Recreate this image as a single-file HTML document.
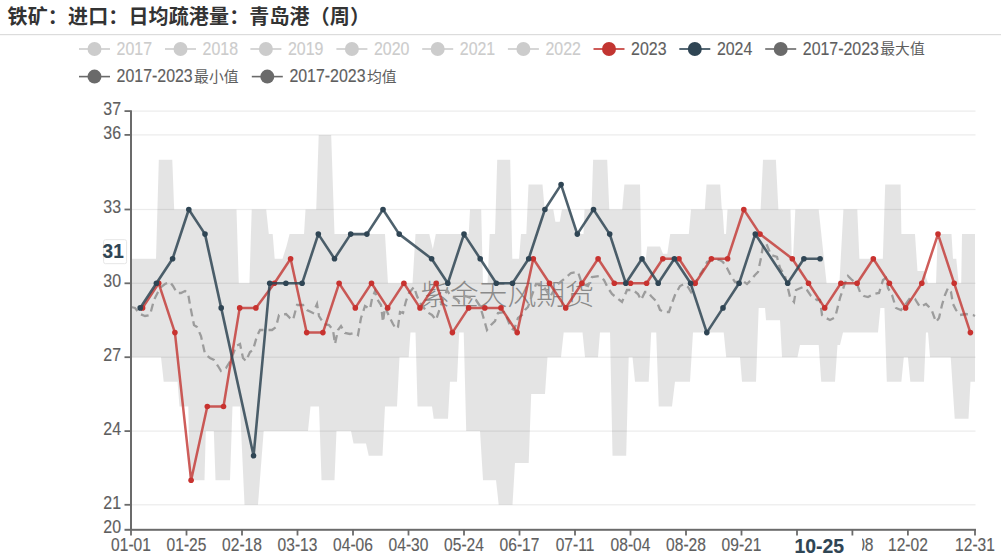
<!DOCTYPE html>
<html><head><meta charset="utf-8"><title>铁矿：进口：日均疏港量：青岛港（周）</title>
<style>html,body{margin:0;padding:0;background:#fff;}body{width:1001px;height:557px;overflow:hidden;position:relative;font-family:"Liberation Sans", "Noto Sans CJK SC", sans-serif;}.t{position:absolute;left:7.6px;top:1px;font-size:20px;font-weight:bold;color:#333;white-space:nowrap;letter-spacing:0.14px;}svg{position:absolute;left:0;top:0;}svg text{font-family:"Liberation Sans", "Noto Sans CJK SC", sans-serif;}</style></head><body>
<div class="t">铁矿：进口：日均疏港量：青岛港（周）</div>
<svg width="1001" height="557" viewBox="0 0 1001 557">
<rect x="0" y="34" width="1001" height="1.2" fill="#dcdcdc"/>
<rect x="79" y="48.2" width="31" height="1.6" fill="#ccc"/><circle cx="94.5" cy="49" r="7" fill="#ccc"/><text transform="translate(116.6 54.6) scale(0.91 1)" font-size="17.5" fill="#ccc" stroke="#ccc" stroke-width="0.15" text-anchor="start">2017</text>
<rect x="165" y="48.2" width="31" height="1.6" fill="#ccc"/><circle cx="180.5" cy="49" r="7" fill="#ccc"/><text transform="translate(202.6 54.6) scale(0.91 1)" font-size="17.5" fill="#ccc" stroke="#ccc" stroke-width="0.15" text-anchor="start">2018</text>
<rect x="250.4" y="48.2" width="31" height="1.6" fill="#ccc"/><circle cx="265.9" cy="49" r="7" fill="#ccc"/><text transform="translate(288 54.6) scale(0.91 1)" font-size="17.5" fill="#ccc" stroke="#ccc" stroke-width="0.15" text-anchor="start">2019</text>
<rect x="336.4" y="48.2" width="31" height="1.6" fill="#ccc"/><circle cx="351.9" cy="49" r="7" fill="#ccc"/><text transform="translate(374 54.6) scale(0.91 1)" font-size="17.5" fill="#ccc" stroke="#ccc" stroke-width="0.15" text-anchor="start">2020</text>
<rect x="422.2" y="48.2" width="31" height="1.6" fill="#ccc"/><circle cx="437.7" cy="49" r="7" fill="#ccc"/><text transform="translate(459.8 54.6) scale(0.91 1)" font-size="17.5" fill="#ccc" stroke="#ccc" stroke-width="0.15" text-anchor="start">2021</text>
<rect x="507.9" y="48.2" width="31" height="1.6" fill="#ccc"/><circle cx="523.4" cy="49" r="7" fill="#ccc"/><text transform="translate(545.5 54.6) scale(0.91 1)" font-size="17.5" fill="#ccc" stroke="#ccc" stroke-width="0.15" text-anchor="start">2022</text>
<rect x="593.5" y="48.2" width="31" height="1.6" fill="#c23531"/><circle cx="609" cy="49" r="7" fill="#c23531"/><text transform="translate(631.1 54.6) scale(0.91 1)" font-size="17.5" fill="#5e5e5e" stroke="#5e5e5e" stroke-width="0.15" text-anchor="start">2023</text>
<rect x="679.3" y="48.2" width="31" height="1.6" fill="#2f4554"/><circle cx="694.8" cy="49" r="7" fill="#2f4554"/><text transform="translate(716.9 54.6) scale(0.91 1)" font-size="17.5" fill="#5e5e5e" stroke="#5e5e5e" stroke-width="0.15" text-anchor="start">2024</text>
<rect x="765.2" y="48.2" width="31" height="1.6" fill="#6a6a6a"/><circle cx="780.7" cy="49" r="7" fill="#6a6a6a"/><text transform="translate(802.8 54.6) scale(0.91 1)" font-size="17.5" fill="#5e5e5e" stroke="#5e5e5e" stroke-width="0.15" text-anchor="start">2017-2023</text><text x="880.3" y="53.9" font-size="14.8" fill="#5e5e5e">最大值</text>
<rect x="79" y="75.8" width="31" height="1.6" fill="#6a6a6a"/><circle cx="94.5" cy="76.6" r="7" fill="#6a6a6a"/><text transform="translate(116.6 82.2) scale(0.91 1)" font-size="17.5" fill="#5e5e5e" stroke="#5e5e5e" stroke-width="0.15" text-anchor="start">2017-2023</text><text x="194.1" y="81.5" font-size="14.8" fill="#5e5e5e">最小值</text>
<rect x="251.8" y="75.8" width="31" height="1.6" fill="#6a6a6a"/><circle cx="267.3" cy="76.6" r="7" fill="#6a6a6a"/><text transform="translate(289.4 82.2) scale(0.91 1)" font-size="17.5" fill="#5e5e5e" stroke="#5e5e5e" stroke-width="0.15" text-anchor="start">2017-2023</text><text x="366.9" y="81.5" font-size="14.8" fill="#5e5e5e">均值</text>
<g fill="#ececec">
<rect x="132" y="110.5" width="843.5" height="1.2"/>
<rect x="132" y="134.3" width="843.5" height="1.2"/>
<rect x="132" y="208.9" width="843.5" height="1.2"/>
<rect x="132" y="282.7" width="843.5" height="1.2"/>
<rect x="132" y="356.6" width="843.5" height="1.2"/>
<rect x="132" y="430.5" width="843.5" height="1.2"/>
<rect x="132" y="504.2" width="843.5" height="1.2"/>
</g>
<path d="M131 258.7 L156 258.7 L158.8 159.8 L172.3 159.8 L174.2 209.5 L236.5 209.5 L238.8 283.3 L249.4 283.3 L251.7 209.5 L266.2 209.5 L268.8 234.1 L272.7 234.1 L274.7 258.7 L282.5 258.7 L286.4 246.4 L289.6 234.1 L304 234.1 L305.5 209.5 L316.2 209.5 L318.7 134.9 L331.2 134.9 L334.5 234.1 L385 234.1 L388 283.3 L412.5 283.3 L415.5 234.1 L429.3 234.1 L432.8 248.9 L435.8 234.1 L468.7 234.1 L470 209.5 L481.2 209.5 L483 283.3 L487.5 283.3 L489.7 234.1 L495 234.1 L497.2 159.8 L510.2 159.8 L512.3 258.7 L519 258.7 L521 234.1 L526.3 234.1 L528.5 184.6 L542.5 184.6 L544.7 209.5 L553.3 209.5 L555.4 221.8 L559.7 221.8 L561.9 209.5 L570.5 209.5 L576 234.1 L583.5 234.1 L584.5 209.5 L591.5 209.5 L593.1 159.8 L607.2 159.8 L609.3 209.5 L622.2 209.5 L624.4 184.6 L640 184.6 L641.5 258.7 L645.8 258.7 L647.2 246.4 L660.1 246.4 L663 253.8 L667.3 253.8 L670.2 234.1 L688.8 234.1 L691 209.5 L704.8 209.5 L706.5 184.6 L720.2 184.6 L721.8 209.5 L722.6 209.5 L724.2 234.1 L726 234.1 L727.5 209.5 L760.6 209.5 L763 159.8 L775.9 159.8 L778.4 209.5 L790.5 209.5 L791.8 258.7 L793 258.7 L795.3 209.5 L818.7 209.5 L826.6 283.3 L839.4 283.3 L843.4 209.5 L857.3 209.5 L859.4 258.7 L882.8 258.7 L885.2 184.6 L900.6 184.6 L901.4 234.1 L915 234.1 L917.5 271 L924 271 L928 283.3 L936 283.3 L937.7 234.1 L951.5 234.1 L953 258.7 L956.3 258.7 L958.7 283.3 L961.2 283.3 L962 234.1 L975 234.1 L975 381.8 L970.5 381.8 L968.5 418.8 L954.7 418.8 L950.7 357.2 L930 357.2 L928 332.6 L926 332.6 L924 381.8 L910.3 381.8 L907.9 357.2 L903.8 357.2 L901.4 381.8 L886.8 381.8 L884.4 307.9 L880.4 307.9 L878 332.6 L843 332.6 L840 344.9 L837.5 344.9 L835 381.8 L821.2 381.8 L818.7 344.9 L800 344.9 L797.5 357.2 L782 357.2 L780 320.2 L766 320.2 L765 307.9 L758.7 307.9 L756 381.8 L742 381.8 L740 357.2 L726.2 357.2 L723.7 332.6 L693 332.6 L690 381.8 L675 381.8 L672 406.5 L658.7 406.5 L656.2 332.6 L651.2 332.6 L648.7 381.8 L635 381.8 L632.5 357.2 L628.7 357.2 L626.2 455.7 L612.5 455.7 L610 332.6 L600 332.6 L598 357.2 L585 357.2 L582.5 332.6 L563.7 332.6 L561 357.2 L547.5 357.2 L545 394.1 L531.2 394.1 L528.7 463 L515 463 L512.5 504.8 L498.7 504.8 L496 480.2 L483 480.2 L480 431.1 L466.2 431.1 L463.7 332.6 L459.2 332.6 L457 381.8 L450 381.8 L448 418.8 L433.7 418.8 L432 406.5 L417.5 406.5 L415.5 332.6 L410.5 332.6 L408.7 357.2 L399.5 357.2 L397 406.5 L385 406.5 L382.5 455.7 L368.7 455.7 L366 443.4 L353.5 443.4 L351 431.1 L336.5 431.1 L334.5 480.2 L321.5 480.2 L319 406.5 L310.5 406.5 L308 431.1 L263.7 431.1 L258 504.8 L244.5 504.8 L240 406.5 L232.5 406.5 L230 480.2 L215.5 480.2 L213.8 431.1 L205.8 431.1 L204.5 480.2 L189.6 480.2 L188.3 406.5 L179.5 406.5 L177.5 381.8 L163.7 381.8 L161 357.2 L131 357.2 Z" fill="#000" fill-opacity="0.105"/>
<text x="420.8" y="305" font-size="28.9" fill="#8a8a8a" style="font-family:'Noto Sans CJK SC',sans-serif;font-weight:300">紫金天风期货</text>
<polyline points="131,307 135,308 140,314 145,316 150,315 154,300 158,292 161,287 165,284 170,282 173,286 177,293 181,293 185,291 188,293 190,305 192,315 194,325 197,327 201,336 203,345 205,354 210,358 214,360 218,366 221,371 226,368 231,360 236,346 240,344 243,358 246,361 250,352 253,350 257,336 260,330 266,330 272,330 276,327 279,315 286,314 290,318 293,320 297,305 303,305 307,310 313,313 317,304 319,316 324,324 329,325 333,330 335,344 338,330 341,326 345,333 350,334 355,333 358,335 361,318 365,306 370,309 372,299 375,291 377,299 381,305 383,322 385,307 389,316 393,324 396,329 398,327 400,312 403,313 406,301 409,293 414,287 417,296 420,303 424,308 427,312 432,315 436,320 441,305 447,290 450,295 453,297 459,301 465,296 471,298 476,300 480,306 483,316 487,330 491,325 495,321 498,313 504,312 507,318 511,328 514,330 518,318 522,315 525,310 528,307 532,295 536,284 542,284 546,290 550,297 554,290 558,284 564,279 571,273 578,272 582,284 588,286 592,277 599,276 604,280 608,288 612,294 617,298 622,302 627,290 633,290 638,294 641,300 645,292 648,292 651,296 657,302 660,310 664,312 669,312 672,303 675,295 680,286 684,284 688,287 691,292 695,283 699,276 703,270 707,262 715,259 720,260 723,262 727,268 731,276 735,282 739,282 743,281 747,284 751,280 755,275 758,272 761,258 763,246 766,243 771,255 777,257 780,268 785,276 790,297 794,302 796,290 803,287 807,290 811,296 817,300 820,300 822,315 826,318 830,320 834,318 836,314 840,298 845,283 848,276 852,280 857,284 860,292 864,296 868,297 874,294 879,293 883,280 886,278 888,288 892,295 896,308 901,310 905,305 910,298 915,299 920,307 926,304 929,307 932,311 936,322 939,318 942,305 945,295 948,288 951,292 953,304 956,310 960,315 966,314 973,315 975,316" fill="none" stroke="#9c9c9c" stroke-width="2.3" stroke-dasharray="8 5"/>
<polyline points="142.6,307.9 158.7,283.3 174.9,332.6 191.1,480.2 207.3,406.5 223.5,406.5 239.7,307.9 255.9,307.9 274.4,283.3 290.6,258.7 306.7,332.6 322.9,332.6 339.1,283.3 355.3,307.9 371.5,283.3 387.7,307.9 403.9,283.3 420,307.9 436.2,283.3 452.4,332.6 468.6,307.9 484.8,307.9 501,307.9 517.2,332.6 533.3,258.7 549.5,283.3 565.7,307.9 581.9,283.3 598.1,258.7 614.3,283.3 630.5,283.3 646.6,283.3 662.8,258.7 679,258.7 695.2,283.3 711.4,258.7 727.6,258.7 743.8,209.5 760,234.1 792.3,258.7 808.5,283.3 824.7,307.9 840.9,283.3 857.1,283.3 873.3,258.7 889.4,283.3 905.6,307.9 921.8,283.3 938,234.1 954.2,283.3 970.4,332.6" fill="none" stroke="#c23531" stroke-opacity="0.8" stroke-width="2.5" stroke-linejoin="round"/>
<g fill="#c8322f"><circle cx="142.6" cy="307.9" r="2.8"/><circle cx="158.7" cy="283.3" r="2.8"/><circle cx="174.9" cy="332.6" r="2.8"/><circle cx="191.1" cy="480.2" r="2.8"/><circle cx="207.3" cy="406.5" r="2.8"/><circle cx="223.5" cy="406.5" r="2.8"/><circle cx="239.7" cy="307.9" r="2.8"/><circle cx="255.9" cy="307.9" r="2.8"/><circle cx="274.4" cy="283.3" r="2.8"/><circle cx="290.6" cy="258.7" r="2.8"/><circle cx="306.7" cy="332.6" r="2.8"/><circle cx="322.9" cy="332.6" r="2.8"/><circle cx="339.1" cy="283.3" r="2.8"/><circle cx="355.3" cy="307.9" r="2.8"/><circle cx="371.5" cy="283.3" r="2.8"/><circle cx="387.7" cy="307.9" r="2.8"/><circle cx="403.9" cy="283.3" r="2.8"/><circle cx="420" cy="307.9" r="2.8"/><circle cx="436.2" cy="283.3" r="2.8"/><circle cx="452.4" cy="332.6" r="2.8"/><circle cx="468.6" cy="307.9" r="2.8"/><circle cx="484.8" cy="307.9" r="2.8"/><circle cx="501" cy="307.9" r="2.8"/><circle cx="517.2" cy="332.6" r="2.8"/><circle cx="533.3" cy="258.7" r="2.8"/><circle cx="549.5" cy="283.3" r="2.8"/><circle cx="565.7" cy="307.9" r="2.8"/><circle cx="581.9" cy="283.3" r="2.8"/><circle cx="598.1" cy="258.7" r="2.8"/><circle cx="614.3" cy="283.3" r="2.8"/><circle cx="630.5" cy="283.3" r="2.8"/><circle cx="646.6" cy="283.3" r="2.8"/><circle cx="662.8" cy="258.7" r="2.8"/><circle cx="679" cy="258.7" r="2.8"/><circle cx="695.2" cy="283.3" r="2.8"/><circle cx="711.4" cy="258.7" r="2.8"/><circle cx="727.6" cy="258.7" r="2.8"/><circle cx="743.8" cy="209.5" r="2.8"/><circle cx="760" cy="234.1" r="2.8"/><circle cx="792.3" cy="258.7" r="2.8"/><circle cx="808.5" cy="283.3" r="2.8"/><circle cx="824.7" cy="307.9" r="2.8"/><circle cx="840.9" cy="283.3" r="2.8"/><circle cx="857.1" cy="283.3" r="2.8"/><circle cx="873.3" cy="258.7" r="2.8"/><circle cx="889.4" cy="283.3" r="2.8"/><circle cx="905.6" cy="307.9" r="2.8"/><circle cx="921.8" cy="283.3" r="2.8"/><circle cx="938" cy="234.1" r="2.8"/><circle cx="954.2" cy="283.3" r="2.8"/><circle cx="970.4" cy="332.6" r="2.8"/></g>
<polyline points="140.2,307.9 156.4,283.3 172.6,258.7 188.8,209.5 205,234.1 221.2,307.9 253.6,455.7 269.7,283.3 285.9,283.3 302.1,283.3 318.3,234.1 334.5,258.7 350.7,234.1 366.9,234.1 383,209.5 399.2,234.1 431.6,258.7 447.8,283.3 464,234.1 480.2,258.7 496.3,283.3 512.5,283.3 528.7,258.7 544.9,209.5 561.1,184.6 577.3,234.1 593.5,209.5 609.7,234.1 625.8,283.3 642,258.7 658.2,283.3 674.4,258.7 690.6,283.3 706.8,332.6 723,307.9 739.1,283.3 755.3,234.1 787.7,283.3 803.9,258.7 820.1,258.7" fill="none" stroke="#2f4554" stroke-opacity="0.85" stroke-width="2.6" stroke-linejoin="round"/>
<g fill="#2f4554"><circle cx="140.2" cy="307.9" r="2.8"/><circle cx="156.4" cy="283.3" r="2.8"/><circle cx="172.6" cy="258.7" r="2.8"/><circle cx="188.8" cy="209.5" r="2.8"/><circle cx="205" cy="234.1" r="2.8"/><circle cx="221.2" cy="307.9" r="2.8"/><circle cx="253.6" cy="455.7" r="2.8"/><circle cx="269.7" cy="283.3" r="2.8"/><circle cx="285.9" cy="283.3" r="2.8"/><circle cx="302.1" cy="283.3" r="2.8"/><circle cx="318.3" cy="234.1" r="2.8"/><circle cx="334.5" cy="258.7" r="2.8"/><circle cx="350.7" cy="234.1" r="2.8"/><circle cx="366.9" cy="234.1" r="2.8"/><circle cx="383" cy="209.5" r="2.8"/><circle cx="399.2" cy="234.1" r="2.8"/><circle cx="431.6" cy="258.7" r="2.8"/><circle cx="447.8" cy="283.3" r="2.8"/><circle cx="464" cy="234.1" r="2.8"/><circle cx="480.2" cy="258.7" r="2.8"/><circle cx="496.3" cy="283.3" r="2.8"/><circle cx="512.5" cy="283.3" r="2.8"/><circle cx="528.7" cy="258.7" r="2.8"/><circle cx="544.9" cy="209.5" r="2.8"/><circle cx="561.1" cy="184.6" r="2.8"/><circle cx="577.3" cy="234.1" r="2.8"/><circle cx="593.5" cy="209.5" r="2.8"/><circle cx="609.7" cy="234.1" r="2.8"/><circle cx="625.8" cy="283.3" r="2.8"/><circle cx="642" cy="258.7" r="2.8"/><circle cx="658.2" cy="283.3" r="2.8"/><circle cx="674.4" cy="258.7" r="2.8"/><circle cx="690.6" cy="283.3" r="2.8"/><circle cx="706.8" cy="332.6" r="2.8"/><circle cx="723" cy="307.9" r="2.8"/><circle cx="739.1" cy="283.3" r="2.8"/><circle cx="755.3" cy="234.1" r="2.8"/><circle cx="787.7" cy="283.3" r="2.8"/><circle cx="803.9" cy="258.7" r="2.8"/><circle cx="820.1" cy="258.7" r="2.8"/></g>
<rect x="130" y="110.3" width="2" height="420" fill="#6b6b6b"/>
<rect x="124.5" y="528.8" width="851.5" height="2" fill="#6b6b6b"/>
<rect x="124.5" y="110.2" width="6" height="1.8" fill="#6b6b6b"/>
<rect x="124.5" y="134" width="6" height="1.8" fill="#6b6b6b"/>
<rect x="124.5" y="208.6" width="6" height="1.8" fill="#6b6b6b"/>
<rect x="124.5" y="282.4" width="6" height="1.8" fill="#6b6b6b"/>
<rect x="124.5" y="356.3" width="6" height="1.8" fill="#6b6b6b"/>
<rect x="124.5" y="430.2" width="6" height="1.8" fill="#6b6b6b"/>
<rect x="124.5" y="503.9" width="6" height="1.8" fill="#6b6b6b"/>
<text transform="translate(121 115) scale(0.91 1)" font-size="17.5" fill="#5e5e5e" stroke="#5e5e5e" stroke-width="0.15" text-anchor="end">37</text>
<text transform="translate(121 138.8) scale(0.91 1)" font-size="17.5" fill="#5e5e5e" stroke="#5e5e5e" stroke-width="0.15" text-anchor="end">36</text>
<text transform="translate(121 213.4) scale(0.91 1)" font-size="17.5" fill="#5e5e5e" stroke="#5e5e5e" stroke-width="0.15" text-anchor="end">33</text>
<text transform="translate(121 287.2) scale(0.91 1)" font-size="17.5" fill="#5e5e5e" stroke="#5e5e5e" stroke-width="0.15" text-anchor="end">30</text>
<text transform="translate(121 361.1) scale(0.91 1)" font-size="17.5" fill="#5e5e5e" stroke="#5e5e5e" stroke-width="0.15" text-anchor="end">27</text>
<text transform="translate(121 435) scale(0.91 1)" font-size="17.5" fill="#5e5e5e" stroke="#5e5e5e" stroke-width="0.15" text-anchor="end">24</text>
<text transform="translate(121 508.7) scale(0.91 1)" font-size="17.5" fill="#5e5e5e" stroke="#5e5e5e" stroke-width="0.15" text-anchor="end">21</text>
<text transform="translate(121 533.4) scale(0.91 1)" font-size="17.5" fill="#5e5e5e" stroke="#5e5e5e" stroke-width="0.15" text-anchor="end">20</text>
<rect x="130.1" y="529.5" width="1.8" height="6" fill="#6b6b6b"/>
<text transform="translate(131 551.2) scale(0.89 1)" font-size="17.5" fill="#5e5e5e" stroke="#5e5e5e" stroke-width="0.15" text-anchor="middle">01-01</text>
<rect x="185.6" y="529.5" width="1.8" height="6" fill="#6b6b6b"/>
<text transform="translate(186.5 551.2) scale(0.89 1)" font-size="17.5" fill="#5e5e5e" stroke="#5e5e5e" stroke-width="0.15" text-anchor="middle">01-25</text>
<rect x="241.1" y="529.5" width="1.8" height="6" fill="#6b6b6b"/>
<text transform="translate(242 551.2) scale(0.89 1)" font-size="17.5" fill="#5e5e5e" stroke="#5e5e5e" stroke-width="0.15" text-anchor="middle">02-18</text>
<rect x="296.6" y="529.5" width="1.8" height="6" fill="#6b6b6b"/>
<text transform="translate(297.5 551.2) scale(0.89 1)" font-size="17.5" fill="#5e5e5e" stroke="#5e5e5e" stroke-width="0.15" text-anchor="middle">03-13</text>
<rect x="352.1" y="529.5" width="1.8" height="6" fill="#6b6b6b"/>
<text transform="translate(353 551.2) scale(0.89 1)" font-size="17.5" fill="#5e5e5e" stroke="#5e5e5e" stroke-width="0.15" text-anchor="middle">04-06</text>
<rect x="407.6" y="529.5" width="1.8" height="6" fill="#6b6b6b"/>
<text transform="translate(408.5 551.2) scale(0.89 1)" font-size="17.5" fill="#5e5e5e" stroke="#5e5e5e" stroke-width="0.15" text-anchor="middle">04-30</text>
<rect x="463.1" y="529.5" width="1.8" height="6" fill="#6b6b6b"/>
<text transform="translate(464 551.2) scale(0.89 1)" font-size="17.5" fill="#5e5e5e" stroke="#5e5e5e" stroke-width="0.15" text-anchor="middle">05-24</text>
<rect x="518.6" y="529.5" width="1.8" height="6" fill="#6b6b6b"/>
<text transform="translate(519.5 551.2) scale(0.89 1)" font-size="17.5" fill="#5e5e5e" stroke="#5e5e5e" stroke-width="0.15" text-anchor="middle">06-17</text>
<rect x="574.1" y="529.5" width="1.8" height="6" fill="#6b6b6b"/>
<text transform="translate(575 551.2) scale(0.89 1)" font-size="17.5" fill="#5e5e5e" stroke="#5e5e5e" stroke-width="0.15" text-anchor="middle">07-11</text>
<rect x="629.6" y="529.5" width="1.8" height="6" fill="#6b6b6b"/>
<text transform="translate(630.5 551.2) scale(0.89 1)" font-size="17.5" fill="#5e5e5e" stroke="#5e5e5e" stroke-width="0.15" text-anchor="middle">08-04</text>
<rect x="685.1" y="529.5" width="1.8" height="6" fill="#6b6b6b"/>
<text transform="translate(686 551.2) scale(0.89 1)" font-size="17.5" fill="#5e5e5e" stroke="#5e5e5e" stroke-width="0.15" text-anchor="middle">08-28</text>
<rect x="740.6" y="529.5" width="1.8" height="6" fill="#6b6b6b"/>
<text transform="translate(741.5 551.2) scale(0.89 1)" font-size="17.5" fill="#5e5e5e" stroke="#5e5e5e" stroke-width="0.15" text-anchor="middle">09-21</text>
<rect x="796.1" y="529.5" width="1.8" height="6" fill="#6b6b6b"/>
<text transform="translate(797 551.2) scale(0.89 1)" font-size="17.5" fill="#5e5e5e" stroke="#5e5e5e" stroke-width="0.15" text-anchor="middle">10-15</text>
<rect x="851.5" y="529.5" width="1.8" height="6" fill="#6b6b6b"/>
<text transform="translate(854.2 551.2) scale(0.89 1)" font-size="17.5" fill="#5e5e5e" stroke="#5e5e5e" stroke-width="0.15" text-anchor="middle">11-08</text>
<rect x="907" y="529.5" width="1.8" height="6" fill="#6b6b6b"/>
<text transform="translate(907.9 551.2) scale(0.89 1)" font-size="17.5" fill="#5e5e5e" stroke="#5e5e5e" stroke-width="0.15" text-anchor="middle">12-02</text>
<rect x="974.1" y="529.5" width="1.8" height="6" fill="#6b6b6b"/>
<text transform="translate(975 551.2) scale(0.89 1)" font-size="17.5" fill="#5e5e5e" stroke="#5e5e5e" stroke-width="0.15" text-anchor="middle">12-31</text>
<rect x="776" y="536" width="86" height="21" fill="#fff"/>
<text transform="translate(819.2 552.7) scale(0.97 1)" font-size="20" fill="#2f4554" stroke="#2f4554" stroke-width="0.15" text-anchor="middle" font-weight="bold">10-25</text>
<rect x="103.6" y="239.7" width="23" height="24" rx="2" fill="#fff" stroke="#e6e6e6" stroke-width="1"/>
<text transform="translate(102.6 257.5) scale(0.95 1)" font-size="20" fill="#2f4554" stroke="#2f4554" stroke-width="0.15" text-anchor="start" font-weight="bold">31</text>
</svg>
</body></html>
